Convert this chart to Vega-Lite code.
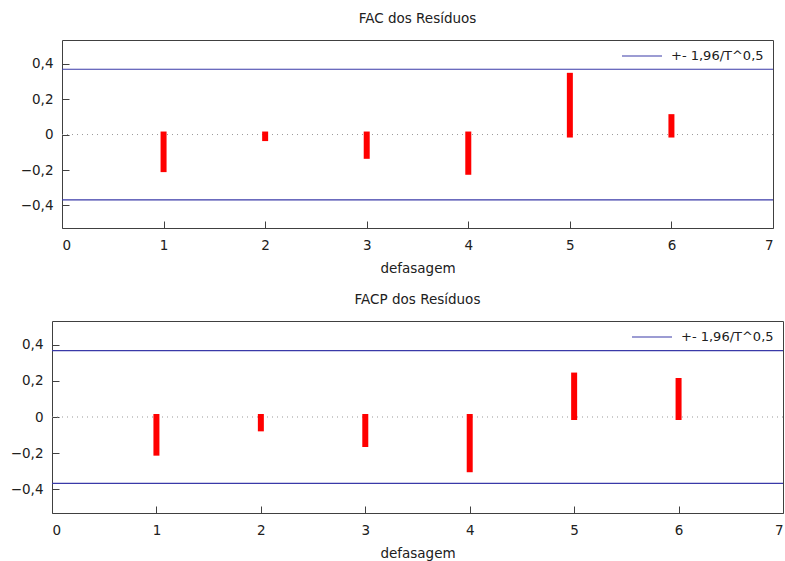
{
  "$schema": "https://vega.github.io/schema/vega-lite/v6.json",
  "background": "white",
  "padding": {"left": 8, "top": 11, "right": 6, "bottom": 0},
  "spacing": 16,
  "config": {
    "font": "DejaVu Sans",
    "view": {"stroke": "#404040", "strokeWidth": 1},
    "axis": {
      "grid": false, "domain": false, "ticks": true, "tickColor": "#404040",
      "tickSize": -7, "labelFontSize": 13.5, "labelColor": "#202020",
      "labelFont": "DejaVu Sans", "titleFont": "DejaVu Sans", "titleFontWeight": "normal",
      "titleFontSize": 13.5, "titleColor": "#202020"
    },
    "title": {"font": "DejaVu Sans", "fontSize": 13.5, "fontWeight": "normal", "color": "#202020", "offset": 15},
    "legend": {"labelFont": "DejaVu Sans", "labelFontSize": 13, "labelColor": "#202020"}
  },
  "datasets": {
    "fac": [
      {"lag": 1, "value": -0.195},
      {"lag": 2, "value": -0.02},
      {"lag": 3, "value": -0.12},
      {"lag": 4, "value": -0.21},
      {"lag": 5, "value": 0.331},
      {"lag": 6, "value": 0.098}
    ],
    "facp": [
      {"lag": 1, "value": -0.198},
      {"lag": 2, "value": -0.063},
      {"lag": 3, "value": -0.15},
      {"lag": 4, "value": -0.29},
      {"lag": 5, "value": 0.23},
      {"lag": 6, "value": 0.2}
    ],
    "bounds": [
      {"bound": 0.368, "label": "+- 1,96/T^0,5"},
      {"bound": -0.368, "label": "+- 1,96/T^0,5"}
    ],
    "empty": []
  },
  "vconcat": [
    {
      "spacing": 0,
      "hconcat": [
        {
          "width": 1,
          "height": 188,
          "data": {"name": "empty"},
          "mark": "point",
          "view": {"stroke": null}
        },
        {
          "title": "FAC dos Resíduos",
          "width": 711,
          "height": 188,
          "layer": [
            {
              "data": {"values": [{"z": 0}]},
              "mark": {"type": "rule", "color": "#999999", "strokeWidth": 1, "strokeDash": [1, 4]},
              "encoding": {
                "y": {"field": "z", "type": "quantitative", "scale": {"domain": [-0.527, 0.533], "nice": false, "zero": false},
                  "axis": {"orient": "left", "values": [-0.4, -0.2, 0, 0.2, 0.4], "labelExpr": "replace(format(datum.value, '.1~f'), '.', ',')", "title": null, "minExtent": 52, "maxExtent": 52, "labelPadding": 16}}
              }
            },
            {
              "data": {"name": "bounds"},
              "mark": {"type": "rule", "strokeWidth": 1.2},
              "encoding": {
                "y": {"field": "bound", "type": "quantitative"},
                "color": {"field": "label", "type": "nominal", "scale": {"range": ["#3a3aa8"]},
                  "legend": {"title": null, "orient": "top-right", "symbolType": "stroke", "symbolSize": 1600, "symbolStrokeWidth": 1.2, "clipHeight": 14, "labelOffset": 8, "offset": 9, "padding": 0}}
              }
            },
            {
              "data": {"name": "fac"},
              "mark": {"type": "rule", "color": "#ff0000", "strokeWidth": 6, "strokeCap": "square"},
              "encoding": {
                "x": {"field": "lag", "type": "quantitative", "scale": {"domain": [0, 7], "nice": false},
                  "axis": {"orient": "bottom", "values": [0, 1, 2, 3, 4, 5, 6, 7], "title": "defasagem", "labelPadding": 17, "titlePadding": 10}},
                "y": {"field": "value", "type": "quantitative"},
                "y2": {"datum": 0}
              }
            }
          ]
        }
      ],
      "resolve": {"scale": {"color": "independent"}, "legend": {"color": "independent"}}
    },
    {
      "spacing": 0,
      "hconcat": [
        {
          "width": 1,
          "height": 192,
          "data": {"name": "empty"},
          "mark": "point",
          "view": {"stroke": null}
        },
        {
          "title": "FACP dos Resíduos",
          "width": 731,
          "height": 192,
          "layer": [
            {
              "data": {"values": [{"z": 0}]},
              "mark": {"type": "rule", "color": "#999999", "strokeWidth": 1, "strokeDash": [1, 4]},
              "encoding": {
                "y": {"field": "z", "type": "quantitative", "scale": {"domain": [-0.533, 0.533], "nice": false, "zero": false},
                  "axis": {"orient": "left", "values": [-0.4, -0.2, 0, 0.2, 0.4], "labelExpr": "replace(format(datum.value, '.1~f'), '.', ',')", "title": null, "minExtent": 38, "maxExtent": 38, "labelPadding": 16}}
              }
            },
            {
              "data": {"name": "bounds"},
              "mark": {"type": "rule", "strokeWidth": 1.2},
              "encoding": {
                "y": {"field": "bound", "type": "quantitative"},
                "color": {"field": "label", "type": "nominal", "scale": {"range": ["#3a3aa8"]},
                  "legend": {"title": null, "orient": "top-right", "symbolType": "stroke", "symbolSize": 1600, "symbolStrokeWidth": 1.2, "clipHeight": 14, "labelOffset": 8, "offset": 9, "padding": 0}}
              }
            },
            {
              "data": {"name": "facp"},
              "mark": {"type": "rule", "color": "#ff0000", "strokeWidth": 6, "strokeCap": "square"},
              "encoding": {
                "x": {"field": "lag", "type": "quantitative", "scale": {"domain": [0, 7], "nice": false},
                  "axis": {"orient": "bottom", "values": [0, 1, 2, 3, 4, 5, 6, 7], "title": "defasagem", "labelPadding": 17, "titlePadding": 10}},
                "y": {"field": "value", "type": "quantitative"},
                "y2": {"datum": 0}
              }
            }
          ]
        }
      ],
      "resolve": {"scale": {"color": "independent"}, "legend": {"color": "independent"}}
    }
  ],
  "resolve": {"scale": {"color": "independent"}, "legend": {"color": "independent"}}
}
